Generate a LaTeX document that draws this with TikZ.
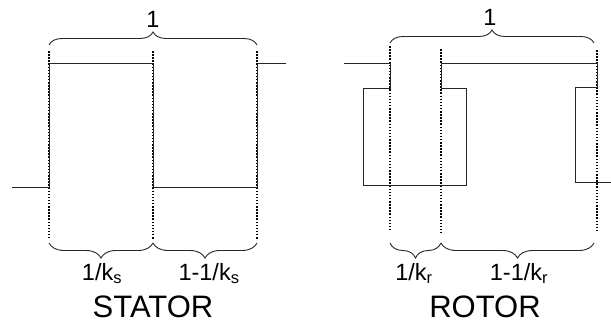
\documentclass[tikz,border=0pt]{standalone}
\usepackage{fontspec}
\setmainfont{Liberation Sans}
\usetikzlibrary{positioning, decorations.pathreplacing}

\begin{document}
\begin{tikzpicture}[
  x=1pt, y=-1pt,
  every node/.style={inner sep=0pt, text=black},
  wave/.style   = {draw=black!85, line width=0.9pt},
  guide/.style  = {draw=black, line width=1.5pt, dash pattern=on 1.5pt off 1.6pt},
  brup/.style   = {draw=black!85, line width=0.9pt, decoration={brace, amplitude=13pt}, decorate},
  brdown/.style = {draw=black!85, line width=0.9pt, decoration={brace, amplitude=15pt, mirror}, decorate},
  lab/.style    = {font=\fontsize{23.5}{26}\selectfont, anchor=base},
  title/.style  = {font=\fontsize{31}{34}\selectfont, anchor=base},
]
  \useasboundingbox (0,0) rectangle (611,327);

  % Stator: one pole 1/k_s high, rest low
  \coordinate (sa) at (49,45);  \coordinate (sa') at (49,243);
  \coordinate (sb) at (153,45); \coordinate (sb') at (153,243);
  \coordinate (sc) at (257,45); \coordinate (sc') at (257,243);
  \draw[guide] (49,51) -- (49,238);
  \draw[guide] (153,51) -- (153,240);
  \draw[guide] (257,51) -- (257,240);
  \draw[wave] (12,187) -- (49,187) -- (49,63) -- (153,63) -- (153,187)
     -- (257,187) -- (257,63) -- (286,63);
  \draw[brup]   (sa) -- (sc);
  \draw[brdown] (sa') -- (sb');
  \draw[brdown] (sb') -- (sc');
  \node[lab]   (sone)  at (153,27)  {1};
  \node[lab]   (sk)    at (102,280) {1/k\textsubscript{s}};
  \node[lab]   (srest) at (209,280) {1-1/k\textsubscript{s}};
  \node[title] (stator) at (153,317) {STATOR};

  % Rotor: gap 1/k_r wide, then the rest
  \coordinate (ra) at (390,43);  \coordinate (ra') at (390,243);
  \coordinate (rb) at (441,43);  \coordinate (rb') at (441,243);
  \coordinate (rc) at (594,43);  \coordinate (rc') at (594,243);
  \draw[guide] (390,46) -- (390,229);
  \draw[guide] (441,49) -- (441,232);
  \draw[guide] (597,50) -- (597,232);
  \draw[wave] (344,63) -- (390,63) -- (390,88) -- (363,88) -- (363,185)
     -- (466,185) -- (466,88) -- (441,88) -- (441,63) -- (597,63)
     -- (597,87) -- (575,87) -- (575,182) -- (611,182);
  \draw[brup]   (ra) -- (rc);
  \draw[brdown] (ra') -- (rb');
  \draw[brdown] (rb') -- (rc');
  \node[lab]   (rone)  at (490,25)  {1};
  \node[lab]   (rk)    at (414,280) {1/k\textsubscript{r}};
  \node[lab]   (rrest) at (519,280) {1-1/k\textsubscript{r}};
  \node[title] (rotor) at (485,317) {ROTOR};
\end{tikzpicture}
\end{document}
